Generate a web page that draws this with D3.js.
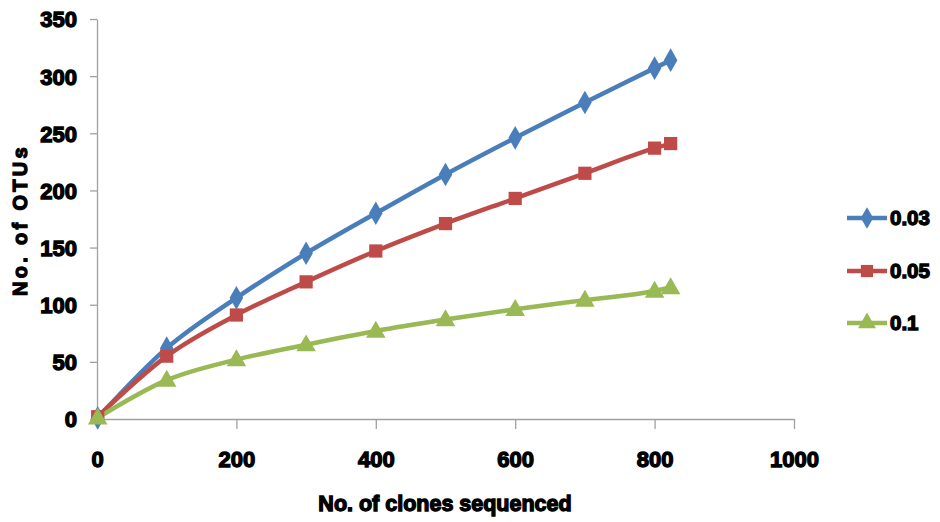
<!DOCTYPE html>
<html>
<head>
<meta charset="utf-8">
<script src="https://cdn.jsdelivr.net/npm/d3@7"></script>
<style>
  html, body { margin: 0; padding: 0; background: #fff; }
  svg { display: block; }
  .t { font-family: "Liberation Sans", Arial, sans-serif; font-weight: bold; fill: #000; stroke: #000; stroke-width: 1.3px; paint-order: stroke; }
</style>
</head>
<body>
<svg id="chart" width="940" height="522"></svg>
<script>
const clones = [1, 100, 200, 300, 400, 500, 600, 700, 800, 823];
const otu003 = [1, 62, 106, 145, 180, 214, 246, 277, 307, 314];
const otu005 = [2, 55, 91, 120, 147, 171, 193, 215, 237, 241];
const otu01  = [1, 34, 52, 65, 77, 87, 96, 104, 112, 115];
const seriesNames = ["0.03", "0.05", "0.1"];
const xTicks = [0, 200, 400, 600, 800, 1000];
const yTicks = [0, 50, 100, 150, 200, 250, 300, 350];

const svg = d3.select("#chart");
const x = d3.scaleLinear().domain([0, 1000]).range([97, 794]);
const y = d3.scaleLinear().domain([0, 350]).range([419, 19]);

const series = [
  { name: seriesNames[0], vals: otu003, color: "#4a7ebb", sym: d3.symbolDiamond, size: 160 },
  { name: seriesNames[1], vals: otu005, color: "#be4b48", sym: d3.symbolSquare, size: 175 },
  { name: seriesNames[2], vals: otu01,  color: "#98b954", sym: d3.symbolTriangle, size: 165 }
];

// axes
const axisColor = "#a0a0a0";
const gx = svg.append("g").attr("transform", `translate(0,${y(0)})`)
  .call(d3.axisBottom(x).tickValues(xTicks).tickSize(10).tickSizeOuter(0).tickFormat(d3.format("d")));
gx.select(".domain").attr("stroke", axisColor).attr("stroke-width", 1.3);
gx.selectAll(".tick line").attr("stroke", axisColor).attr("stroke-width", 1.3);
gx.selectAll(".tick text").attr("class", "t").attr("font-size", 22).attr("dy", 0).attr("y", 48);

const gy = svg.append("g").attr("transform", `translate(${x(0)},0)`)
  .call(d3.axisLeft(y).tickValues(yTicks).tickSize(7).tickSizeOuter(0).tickFormat(d3.format("d")));
gy.select(".domain").attr("stroke", axisColor).attr("stroke-width", 1.3);
gy.selectAll(".tick line").attr("stroke", axisColor).attr("stroke-width", 1.3);
gy.selectAll(".tick text").attr("class", "t").attr("font-size", 22).attr("x", -20).attr("dy", "0.36em");

// titles
svg.append("text").attr("class", "t").attr("x", 445).attr("y", 511)
  .attr("text-anchor", "middle").attr("font-size", 21.5).text("No. of clones sequenced");
svg.append("text").attr("class", "t")
  .attr("transform", "translate(27,220) rotate(-90)")
  .attr("text-anchor", "middle").attr("font-size", 20).attr("letter-spacing", 3.3).text("No. of OTUs");

// lines
const line = d3.line().x((d, i) => x(clones[i])).y(d => y(d)).curve(d3.curveMonotoneX);
series.forEach(s => {
  svg.append("path").datum(s.vals).attr("d", line)
    .attr("fill", "none").attr("stroke", s.color).attr("stroke-width", 4.5).attr("stroke-linejoin", "round");
});
series.forEach(s => {
  svg.append("g").selectAll("path").data(s.vals).join("path")
    .attr("transform", (d, i) => `translate(${x(clones[i])},${y(d) + (s.sym === d3.symbolTriangle ? 1 : 0)})`)
    .attr("d", d3.symbol().type(s.sym).size(s.size))
    .attr("fill", s.color);
});

// legend
const legY = [218, 271, 323];
series.forEach((s, i) => {
  const g = svg.append("g").attr("transform", `translate(0,${legY[i]})`);
  g.append("line").attr("x1", 847).attr("x2", 887).attr("y1", 0).attr("y2", 0)
    .attr("stroke", s.color).attr("stroke-width", 4.5);
  g.append("path").attr("transform", "translate(867,0)")
    .attr("d", d3.symbol().type(s.sym).size(s.size * 0.85)).attr("fill", s.color);
  g.append("text").attr("class", "t").attr("x", 890).attr("y", 0).attr("dy", "0.36em")
    .attr("font-size", 20.5).text(s.name);
});
</script>
</body>
</html>
